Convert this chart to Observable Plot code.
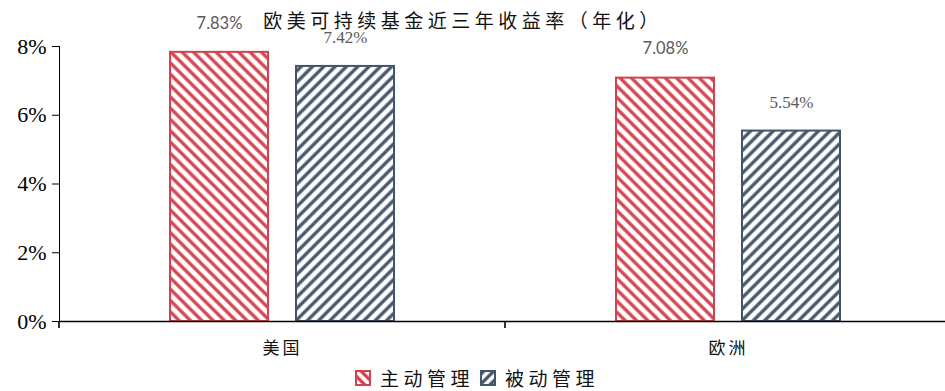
<!DOCTYPE html>
<html>
<head>
<meta charset="utf-8">
<script src="https://cdn.jsdelivr.net/npm/d3@7"></script>
<script src="https://cdn.jsdelivr.net/npm/@observablehq/plot@0.6"></script>
<style>
  html, body { margin: 0; padding: 0; background: #fff; overflow: hidden; }
  #wrap { position: relative; width: 945px; height: 391px; overflow: hidden; }
  #title {
    position: absolute; left: 0; top: 6px; width: 926px; text-align: center;
    font: 19px "Noto Sans CJK SC", sans-serif; letter-spacing: 4.5px; color: #111;
  }
  #chart { position: absolute; left: 0; top: 0; width: 951px; }
  #chart svg { max-width: none !important; }
  #legend {
    position: absolute; left: 355px; top: 364px; display: flex; align-items: center;
    font: 19px "Noto Sans CJK SC", sans-serif; letter-spacing: 4.5px; color: #111;
  }
  #legend .item { display: flex; align-items: center; margin-right: 6px; }
  #legend svg { margin-right: 9px; }
  g[aria-label^="y-axis"] text {
    font-family: "Liberation Serif", "Times New Roman", "DejaVu Serif", serif !important;
    font-size: 22px !important; fill: #000;
  }
  g[aria-label^="fx-axis"] text {
    font-family: "Noto Sans CJK SC", sans-serif !important;
    font-size: 17px !important; letter-spacing: 3px; fill: #111;
  }
</style>
</head>
<body>
<div id="wrap">
  <div id="chart"></div>
  <div id="title">欧美可持续基金近三年收益率（年化）</div>
  <div id="legend"></div>
</div>
<script>
// Annualised three-year returns (%) of sustainable funds, by region and management style
const regions = ["美国", "欧洲"];
const styles = ["主动管理", "被动管理"];
const activeReturns = [7.83, 7.08];
const passiveReturns = [7.42, 5.54];
const yTicks = [0, 2, 4, 6, 8];

const styleColors = { "主动管理": "#D1434F", "被动管理": "#44546A" };
const hatchIds = { "主动管理": "hatch-active", "被动管理": "hatch-passive" };
const serifStack = "'Liberation Serif', 'Times New Roman', 'DejaVu Serif', serif";

const rows = [];
regions.forEach((region, i) => {
  rows.push({ region, style: styles[0], value: activeReturns[i] });
  rows.push({ region, style: styles[1], value: passiveReturns[i] });
});

const chart = Plot.plot({
  width: 951,
  height: 360,
  marginLeft: 59,
  marginRight: 0,
  marginTop: 46,
  marginBottom: 39,
  style: { maxWidth: "none" },
  facet: { data: rows, x: "region" },
  fx: { domain: regions, padding: 0, axis: "bottom", tickSize: 0, tickPadding: 20, label: null },
  x: { domain: styles, axis: null, paddingInner: 0.22, paddingOuter: 0.866 },
  y: {
    domain: [0, 8], ticks: yTicks, tickFormat: d => d + "%",
    tickSize: 7, tickPadding: 6, line: true, label: null
  },
  marks: [
    Plot.barY(rows, {
      x: "style", y: "value",
      fill: d => `url(#${hatchIds[d.style]})`,
      stroke: d => styleColors[d.style],
      strokeWidth: 2
    }),
    Plot.ruleY([0], { stroke: "#000", strokeWidth: 1.6 }),
    Plot.text(rows, {
      filter: d => d.style === "主动管理",
      x: "style", y: "value", text: d => d.value.toFixed(2) + "%",
      dy: -29, fill: "#595959", fontSize: 16.5, fontFamily: "Lato, 'Open Sans', sans-serif"
    }),
    Plot.text(rows, {
      filter: d => d.style === "被动管理",
      x: "style", y: "value", text: d => d.value.toFixed(2) + "%",
      dy: -29, fill: "#595959", fontSize: 17, fontFamily: serifStack
    })
  ]
});

const svg = chart.tagName.toLowerCase() === "svg" ? chart : chart.querySelector("svg");
svg.style.maxWidth = "none";
const defs = d3.select(svg).insert("defs", ":first-child");

function addHatch(sel, id, color, angle, size, stroke) {
  const p = sel.append("pattern")
    .attr("id", id)
    .attr("patternUnits", "userSpaceOnUse")
    .attr("width", size).attr("height", size)
    .attr("patternTransform", `rotate(${angle})`);
  p.append("rect").attr("width", size).attr("height", size).attr("fill", "#fff");
  p.append("line")
    .attr("x1", size / 2).attr("y1", 0).attr("x2", size / 2).attr("y2", size)
    .attr("stroke", color).attr("stroke-width", stroke);
}
addHatch(defs, "hatch-active", styleColors["主动管理"], -45, 8, 3.3);
addHatch(defs, "hatch-passive", styleColors["被动管理"], 45, 8, 3.3);
addHatch(defs, "swatch-active", styleColors["主动管理"], -45, 7, 3.4);
addHatch(defs, "swatch-passive", styleColors["被动管理"], 45, 7, 3.4);

// Small downward ticks at the category boundaries of the x axis
const fx = chart.scale("fx");
const y = chart.scale("y");
const y0 = y.apply(0);
const bounds = regions.map(r => fx.apply(r)).concat([fx.apply(regions[regions.length - 1]) + fx.bandwidth]);
d3.select(svg).append("g")
  .selectAll("line")
  .data(bounds)
  .join("line")
  .attr("x1", d => d).attr("x2", d => d)
  .attr("y1", y0).attr("y2", y0 + 7)
  .attr("stroke", "#000").attr("stroke-width", 1.6);

document.getElementById("chart").appendChild(chart);

// Legend
const legend = d3.select("#legend");
styles.forEach(s => {
  const item = legend.append("div").attr("class", "item");
  const sw = item.append("svg").attr("width", 16).attr("height", 16);
  sw.append("rect")
    .attr("x", 1).attr("y", 1).attr("width", 14).attr("height", 14)
    .attr("fill", s === "主动管理" ? "url(#swatch-active)" : "url(#swatch-passive)")
    .attr("stroke", styleColors[s]).attr("stroke-width", 2);
  item.append("span").text(s);
});
</script>
</body>
</html>
